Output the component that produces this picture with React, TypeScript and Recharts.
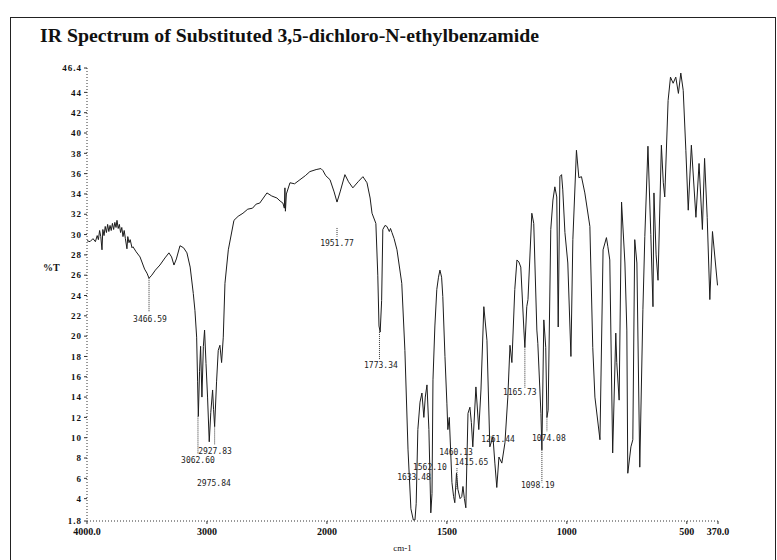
import { LineChart, Line, XAxis, YAxis, ReferenceLine, ReferenceDot } from 'recharts';

// wavenumber (cm-1) and %T
const wavenumbers = [
  4000, 3975, 3950, 3930, 3915, 3905, 3895, 3885, 3875, 3868, 3858, 3848, 3838, 3828, 3818, 3808,
  3798, 3788, 3778, 3768, 3758, 3750, 3740, 3730, 3720, 3710, 3700, 3690, 3680, 3667, 3660, 3650,
  3640, 3625, 3617, 3590, 3558, 3520, 3500, 3483, 3460, 3430, 3392, 3350, 3317, 3295, 3275, 3255,
  3225, 3195, 3167, 3140, 3114, 3100, 3086, 3078, 3072, 3062, 3053, 3042, 3030, 3020, 3008, 2995,
  2981, 2968, 2953, 2945, 2936, 2920, 2906, 2892, 2878, 2864, 2850, 2822, 2775, 2740, 2700, 2660,
  2620, 2590, 2560, 2530, 2500, 2460, 2417, 2390, 2367, 2355, 2350, 2346, 2338, 2308, 2270, 2225,
  2180, 2142, 2090, 2050, 2033, 2010, 1987, 1970, 1958, 1945, 1925, 1910, 1892, 1870, 1850, 1833,
  1820, 1812, 1796, 1788, 1783, 1778, 1772, 1767, 1758, 1750, 1740, 1735, 1729, 1720, 1708, 1688,
  1675, 1662, 1650, 1640, 1633, 1628, 1621, 1612, 1604, 1596, 1590, 1583, 1575, 1567, 1562, 1558,
  1550, 1542, 1535, 1529, 1522, 1517, 1508, 1500, 1496, 1490, 1479, 1472, 1467, 1460, 1454, 1445,
  1438, 1433, 1427, 1421, 1412, 1404, 1398, 1392, 1379, 1367, 1358, 1346, 1333, 1321, 1308, 1300,
  1292, 1283, 1271, 1258, 1246, 1237, 1229, 1217, 1208, 1200, 1192, 1179, 1175, 1167, 1162, 1146,
  1138, 1125, 1121, 1108, 1104, 1096, 1088, 1083, 1078, 1067, 1058, 1050, 1042, 1036, 1029, 1022,
  1017, 1008, 996, 983, 975, 960, 950, 939, 925, 904, 892, 883, 862, 849, 835, 829,
  821, 809, 796, 792, 782, 772, 758, 750, 746, 733, 725, 717, 708, 696, 683, 675,
  662, 650, 641, 637, 628, 620, 606, 598, 592, 578, 568, 557, 546, 535, 525, 515,
  504, 494, 481, 462, 449, 435, 426, 415, 404, 393, 372,
];

const transmittance = [
  29.4, 29.3, 29.6, 29.3, 29.9, 29.5, 30.4, 29.8, 28.5, 30.5, 29.9, 30.8, 30.2, 31.0, 30.3, 30.9,
  30.4, 31.1, 30.5, 31.2, 30.7, 31.4, 30.6, 31.0, 30.2, 30.7, 29.8, 30.4, 29.6, 28.6, 29.8, 29.2,
  29.5, 28.7, 28.8, 28.3, 27.8, 26.6, 26.2, 25.7, 26.0, 26.5, 27.0, 27.7, 28.2, 27.8, 27.0, 27.6,
  28.9, 28.7, 28.2, 26.8, 24.2, 22.5, 19.9, 15.5, 12.1, 16.5, 19.0, 14.0, 19.0, 20.6, 17.3, 14.0,
  9.6, 12.5, 14.7, 12.8, 11.1, 15.5, 18.6, 19.1, 17.4, 19.9, 25.2, 28.5, 31.4, 31.8, 32.1, 32.5,
  32.6, 33.0, 33.1, 33.6, 34.1, 33.8, 33.6, 33.3, 33.1, 32.6, 34.6, 32.3, 34.0, 35.1, 35.0, 35.4,
  35.8, 36.2, 36.4, 36.5, 36.3, 35.8, 35.4, 34.2, 33.2, 34.2, 35.9, 35.2, 34.6, 35.2, 35.7, 35.1,
  33.6, 32.1, 31.1, 26.0, 21.0, 20.4, 23.5, 30.5, 30.9, 30.8, 30.3, 30.6, 30.2, 29.6, 28.5, 25.2,
  18.6, 8.8, 3.0, 1.9, 1.9, 3.5, 10.8, 13.5, 14.4, 12.0, 14.0, 15.2, 10.8, 2.6, 4.5, 15.7,
  21.0, 24.6, 25.8, 26.5, 25.8, 23.9, 18.0, 13.4, 10.8, 12.0, 5.6, 4.2, 3.6, 6.5, 4.9, 4.0,
  4.2, 5.2, 4.0, 3.1, 12.4, 13.0, 11.5, 9.1, 15.0, 10.8, 14.7, 22.9, 19.6, 9.1, 10.1, 7.5,
  5.1, 8.1, 7.5, 9.5, 14.0, 19.1, 17.4, 24.6, 27.5, 27.3, 26.8, 20.6, 18.9, 22.9, 23.6, 32.1,
  31.1, 20.6, 19.3, 12.4, 8.8, 21.6, 18.9, 12.0, 12.7, 30.5, 33.4, 34.7, 33.7, 20.9, 35.7, 35.9,
  34.4, 30.2, 27.2, 18.0, 29.5, 38.3, 35.6, 35.7, 34.1, 30.8, 18.9, 14.0, 9.8, 28.5, 29.7, 28.8,
  27.5, 8.5, 20.3, 17.4, 13.7, 33.2, 27.2, 20.6, 6.5, 9.1, 9.8, 29.5, 27.2, 7.1, 22.6, 29.8,
  38.7, 30.0, 22.9, 34.1, 28.0, 25.5, 38.8, 35.1, 33.7, 43.2, 45.5, 44.9, 45.5, 43.9, 45.9, 44.2,
  38.3, 32.4, 38.8, 31.7, 37.0, 30.5, 37.5, 31.7, 23.6, 30.3, 25.0,
];

const xTickValues = [4000, 3000, 2000, 1500, 1000, 500, 370];
const xTickLabels = ['4000.0', '3000', '2000', '1500', '1000', '500', '370.0'];
const yTicks = [1.8, 4, 6, 8, 10, 12, 14, 16, 18, 20, 22, 24, 26, 28, 30, 32, 34, 36, 38, 40, 42, 44, 46.4];

// peak annotations: label text and where it sits
const peakLabels = ['3466.59', '1951.77', '3062.60', '2927.83', '2975.84', '1773.34', '1633.48', '1562.10', '1460.13', '1415.65', '1261.44', '1165.73', '1074.08', '1098.19'];
const peakLabelWn = [3475, 1958, 3075, 2933, 2942, 1775, 1637, 1571, 1462, 1398, 1287, 1196, 1075, 1121];
const peakLabelT = [21.7, 29.2, 7.8, 8.7, 5.55, 17.1, 6.1, 7.1, 8.6, 7.6, 9.9, 14.5, 10.0, 5.3];

// dotted drop lines from peak to label
const dropWn = [3483, 1958, 3075, 2936, 1781, 1175, 1083, 1104, 1458];
const dropFrom = [25.7, 30.65, 12.1, 11.1, 20.4, 18.9, 12.0, 8.8, 7.0];
const dropTo = [22.4, 29.8, 8.4, 9.3, 17.7, 14.9, 10.6, 5.6, 4.9];

// the chart is printed at double scale below 2000 cm-1
const toAxis = (wn: number) => (wn >= 2000 ? 4000 - wn : 2000 + 2 * (2000 - wn));

const data = wavenumbers.map((wn, i) => ({ x: toAxis(wn), t: transmittance[i] }));

const serif = '"Liberation Serif", "Times New Roman", serif';
const mono = '"DejaVu Sans Mono", "Liberation Mono", monospace';

export default function App() {
  const xTicks = xTickValues.map(toAxis);
  return (
    <div style={{ position: 'absolute', left: 0, top: 0, width: 777, height: 560, background: '#fff', overflow: 'hidden' }}>
      <div style={{ position: 'absolute', left: 10, top: 17, width: 764, height: 560, border: '1.5px solid #222', borderBottom: 'none' }} />
      <div style={{ position: 'absolute', left: 40, top: 25, fontFamily: serif, fontWeight: 'bold', fontSize: 19.8, lineHeight: '20px', color: '#111', whiteSpace: 'nowrap' }}>
        IR Spectrum of Substituted 3,5-dichloro-N-ethylbenzamide
      </div>
      <div style={{ position: 'absolute', left: 0, top: 0 }}>
        <LineChart width={777} height={560} data={data} margin={{ top: 68, right: 59, bottom: 9, left: 47 }}>
          <XAxis
            dataKey="x"
            type="number"
            domain={[0, toAxis(370)]}
            ticks={xTicks}
            interval={0}
            tickFormatter={(v: number) => xTickLabels[xTicks.indexOf(v)] ?? ''}
            height={30}
            tickSize={3}
            tickMargin={4}
            axisLine={{ stroke: '#333', strokeDasharray: '1 2' }}
            tickLine={{ stroke: '#333' }}
            tick={{ fontFamily: serif, fontWeight: 'bold', fontSize: 10, fill: '#111' }}
            label={{ value: 'cm-1', position: 'insideBottom', offset: 0, fontFamily: serif, fontSize: 9, fill: '#111' }}
          />
          <YAxis
            type="number"
            domain={[1.8, 46.4]}
            ticks={yTicks}
            interval={0}
            allowDataOverflow
            width={40}
            tickSize={3}
            tickMargin={2}
            axisLine={{ stroke: '#333', strokeDasharray: '1 2' }}
            tickLine={{ stroke: '#333' }}
            tick={{ fontFamily: serif, fontWeight: 'bold', fontSize: 9, fill: '#111', letterSpacing: 1 }}
            label={{ value: '%T', position: 'insideLeft', offset: -4, dy: -27, fontFamily: serif, fontWeight: 'bold', fontSize: 10, fill: '#111' }}
          />
          <Line type="linear" dataKey="t" stroke="#1c1c1c" strokeWidth={1} dot={false} isAnimationActive={false} />
          {dropWn.map((wn, i) => (
            <ReferenceLine
              key={`drop-${i}`}
              segment={[{ x: toAxis(wn), y: dropFrom[i] }, { x: toAxis(wn), y: dropTo[i] }]}
              stroke="#333"
              strokeDasharray="1 1"
            />
          ))}
          {peakLabels.map((txt, i) => (
            <ReferenceDot
              key={`lbl-${i}`}
              x={toAxis(peakLabelWn[i])}
              y={peakLabelT[i]}
              r={0}
              fill="none"
              stroke="none"
              label={{ value: txt, position: 'center', fontFamily: mono, fontSize: 8, fill: '#222' }}
            />
          ))}
        </LineChart>
      </div>
    </div>
  );
}
